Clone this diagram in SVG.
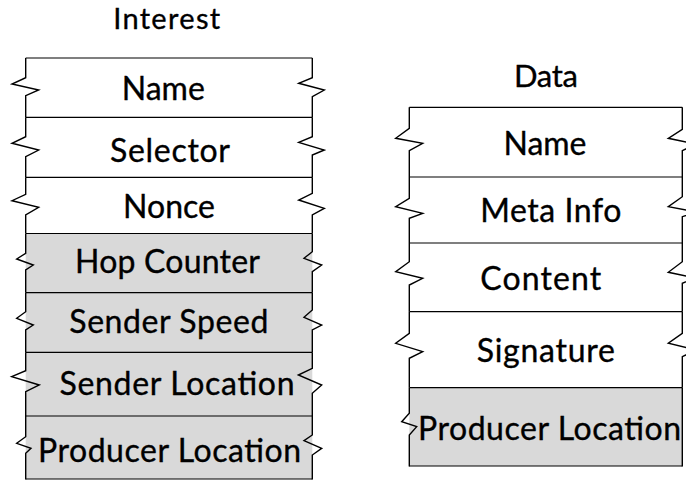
<svg xmlns="http://www.w3.org/2000/svg" width="686" height="481" viewBox="0 0 686 481">
  <style>
    .title, .label { font-family: Lato, "Open Sans", "Liberation Sans", sans-serif; font-size: 32px; fill: #000; stroke: #000; stroke-width: 0.35; text-anchor: middle; }
    .title { font-size: 31px; }
    .head { font-size: 29px; }
    .plain { fill: #ffffff; stroke: none; }
    .ext { fill: #d9d9d9; stroke: none; }
    .rule { stroke: #000; stroke-width: 1.2; fill: none; }
    .edge { stroke: #000; stroke-width: 1.4; fill: none; stroke-linejoin: miter; }
  </style>

  <rect width="686" height="481" fill="#ffffff"/>

  <!-- Interest packet -->
  <g id="interest">
    <text class="title head" x="166.7" y="29.2" textLength="107" lengthAdjust="spacing">Interest</text>

    <g id="interest-name">
      <rect class="plain" x="25.7" y="58" width="286.6" height="59.3"/>
      <line class="rule" x1="25.7" y1="58" x2="312.3" y2="58"/>
      <path class="edge" d="M25.7,58 V77.7 L12,84 L38.7,90 L25.7,95.7 V117.3"/>
      <path class="edge" d="M312.3,58 V77.7 L298.7,83.3 L324.3,90 L312.3,96.7 V117.3"/>
      <text class="label" x="163.3" y="100" textLength="83" lengthAdjust="spacing">Name</text>
    </g>

    <g id="interest-selector">
      <rect class="plain" x="25.7" y="117.3" width="286.6" height="60"/>
      <line class="rule" x1="25.7" y1="117.3" x2="312.3" y2="117.3"/>
      <path class="edge" d="M25.7,117.3 V136.7 L12,143.3 L38.7,150 L25.7,156.7 V177.3"/>
      <path class="edge" d="M312.3,117.3 V136.7 L298.7,142.3 L324.3,150 L312.3,155 V177.3"/>
      <text class="label" x="170" y="162.3" textLength="120" lengthAdjust="spacing">Selector</text>
    </g>

    <g id="interest-nonce">
      <rect class="plain" x="25.7" y="177.3" width="286.6" height="56.2"/>
      <line class="rule" x1="25.7" y1="177.3" x2="312.3" y2="177.3"/>
      <path class="edge" d="M25.7,177.3 V194.3 L12,200.7 L38.7,207.3 L25.7,215 V233.5"/>
      <path class="edge" d="M312.3,177.3 V193.3 L298.7,200 L324.3,208.3 L312.3,215 V233.5"/>
      <text class="label" x="169" y="218.3" textLength="92" lengthAdjust="spacing">Nonce</text>
    </g>

    <g id="interest-hop-counter">
      <rect class="ext" x="25.7" y="233.5" width="286.6" height="59.2"/>
      <line class="rule" x1="25.7" y1="233.5" x2="312.3" y2="233.5"/>
      <path class="edge" d="M25.7,233.5 V253.3 L16.7,259 L33.3,265 L25.7,270 V292.7"/>
      <path class="edge" d="M312.3,233.5 V251.7 L304,258.3 L321.7,265 L312.3,271.7 V292.7"/>
      <text class="label" x="167.5" y="273.3" textLength="185" lengthAdjust="spacing">Hop Counter</text>
    </g>

    <g id="interest-sender-speed">
      <rect class="ext" x="25.7" y="292.7" width="286.6" height="59.6"/>
      <line class="rule" x1="25.7" y1="292.7" x2="312.3" y2="292.7"/>
      <path class="edge" d="M25.7,292.7 V311.7 L16.7,318.3 L33.3,325 L25.7,330 V352.3"/>
      <path class="edge" d="M312.3,292.7 V310 L304,317.3 L321.7,325 L312.3,330 V352.3"/>
      <text class="label" x="168.8" y="332.7" textLength="199" lengthAdjust="spacing">Sender Speed</text>
    </g>

    <g id="interest-sender-location">
      <rect class="ext" x="25.7" y="352.3" width="286.6" height="63.7"/>
      <line class="rule" x1="25.7" y1="352.3" x2="312.3" y2="352.3"/>
      <path class="edge" d="M25.7,352.3 V370.7 L11.7,376.7 L39.3,385 L25.7,391.7 V416"/>
      <path class="edge" d="M312.3,352.3 V368.3 L298.3,375 L321.7,385 L312.3,393.3 V416"/>
      <text class="label" x="177" y="395" textLength="235" lengthAdjust="spacing">Sender Location</text>
    </g>

    <g id="interest-producer-location">
      <rect class="ext" x="25.7" y="416" width="286.6" height="63"/>
      <line class="rule" x1="25.7" y1="416" x2="312.3" y2="416"/>
      <path class="edge" d="M25.7,416 V436.7 L16.7,443.3 L31,448.3 L25.7,453.3 V479.5"/>
      <path class="edge" d="M312.3,416 V435 L304,440.7 L321.7,448.3 L312.3,455 V479.5"/>
      <line class="rule" x1="25.7" y1="479" x2="312.3" y2="479"/>
      <text class="label" x="169.5" y="462.3" textLength="263" lengthAdjust="spacing">Producer Location</text>
    </g>
  </g>

  <!-- Data packet -->
  <g id="data">
    <text class="title" x="546" y="86.7" textLength="64" lengthAdjust="spacing">Data</text>

    <g id="data-name">
      <rect class="plain" x="409.3" y="107.3" width="273" height="69.7"/>
      <line class="rule" x1="409.3" y1="107.3" x2="682.3" y2="107.3"/>
      <path class="edge" d="M409.3,107.3 V128.3 L395.7,138.3 L422.7,143.3 L409.3,150.7 V177"/>
      <path class="edge" d="M682.3,107.3 V129.3 L668.3,138.3 L696,144 L682.3,150.7 V177"/>
      <text class="label" x="545" y="155" textLength="83" lengthAdjust="spacing">Name</text>
    </g>

    <g id="data-meta-info">
      <rect class="plain" x="409.3" y="177" width="273" height="66"/>
      <line class="rule" x1="409.3" y1="177" x2="682.3" y2="177"/>
      <path class="edge" d="M409.3,177 V198.3 L395.7,206.7 L422.7,213.3 L409.3,218.3 V243"/>
      <path class="edge" d="M682.3,177 V196.7 L668.3,206.7 L696,212 L682.3,216.7 V243"/>
      <text class="label" x="550.8" y="221.7" textLength="141" lengthAdjust="spacing">Meta Info</text>
    </g>

    <g id="data-content">
      <rect class="plain" x="409.3" y="243" width="273" height="68.7"/>
      <line class="rule" x1="409.3" y1="243" x2="682.3" y2="243"/>
      <path class="edge" d="M409.3,243 V261.7 L395.7,271.7 L422.7,278.3 L409.3,285 V311.7"/>
      <path class="edge" d="M682.3,243 V261.7 L668.3,272.3 L696,278 L682.3,283.3 V311.7"/>
      <text class="label" x="540.8" y="290" textLength="121" lengthAdjust="spacing">Content</text>
    </g>

    <g id="data-signature">
      <rect class="plain" x="409.3" y="311.7" width="273" height="76"/>
      <line class="rule" x1="409.3" y1="311.7" x2="682.3" y2="311.7"/>
      <path class="edge" d="M409.3,311.7 V333.3 L395.7,343.3 L422.7,351.7 L409.3,358.3 V387.7"/>
      <path class="edge" d="M682.3,311.7 V333.3 L668.3,343.3 L696,350 L682.3,356.7 V387.7"/>
      <text class="label" x="545.8" y="361.7" textLength="138" lengthAdjust="spacing">Signature</text>
    </g>

    <g id="data-producer-location">
      <rect class="ext" x="409.3" y="387.7" width="273" height="78.3"/>
      <line class="rule" x1="409.3" y1="387.7" x2="682.3" y2="387.7"/>
      <path class="edge" d="M409.3,387.7 V413.3 L401.7,421.7 L416.7,426.7 L409.3,435 V466.5"/>
      <path class="edge" d="M682.3,387.7 V466.5"/>
      <line class="rule" x1="409.3" y1="466" x2="682.3" y2="466"/>
      <text class="label" x="549.5" y="440" textLength="263" lengthAdjust="spacing">Producer Location</text>
    </g>
  </g>
</svg>
